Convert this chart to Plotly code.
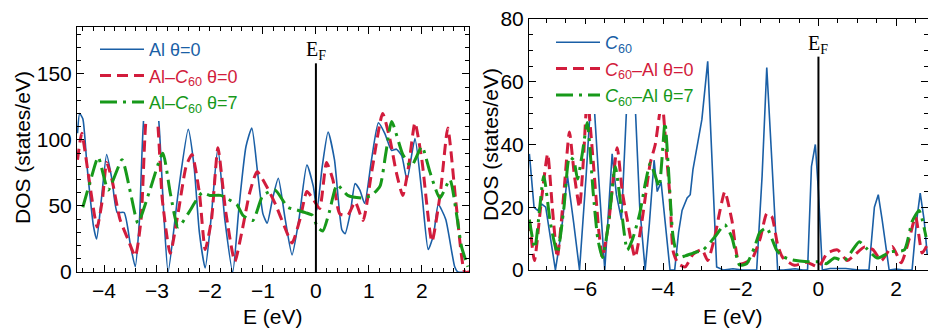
import plotly.graph_objects as go

# ---------------- data: left panel (Al) ----------------
al_E = [-4.50, -4.46, -4.40, -4.32, -4.2, -4.14, -4.05, -3.95, -3.85, -3.75, -3.62, -3.5, -3.41,
        -3.33, -3.23, -3.1, -2.98, -2.88, -2.79, -2.6, -2.41, -2.3, -2.2, -2.09, -1.98, -1.85,
        -1.72, -1.57, -1.45, -1.32, -1.21, -1.1, -1.0, -0.92, -0.82, -0.71, -0.58, -0.45, -0.32,
        -0.17, -0.05, 0.02, 0.12, 0.23, 0.35, 0.49, 0.55, 0.65, 0.74, 0.83, 0.92, 1.05, 1.18,
        1.3, 1.43, 1.52, 1.62, 1.72, 1.87, 2.0, 2.12, 2.22, 2.31, 2.45, 2.62, 2.68, 2.9]
al_V = [105, 120, 116, 80, 35, 25, 55, 89, 70, 45, 45, 20, 4,
        40, 125, 138, 120, 50, 0, 60, 108, 80, 30, 3, 40, 94,
        40, 0, 50, 95, 109, 75, 44, 37, 55, 71, 40, 13, 40,
        81, 65, 47, 80, 106, 85, 32, 29, 45, 67, 62, 52, 85, 113,
        105, 92, 93, 88, 70, 101, 60, 17, 28, 51, 40, 4, 0, 0]

alc_E = [-4.5, -4.42, -4.3, -4.13, -4.03, -3.95, -3.85, -3.7, -3.55, -3.41, -3.3, -3.2, -3.1, -3.0,
         -2.9, -2.75, -2.6, -2.45, -2.34, -2.2, -2.09, -1.97, -1.85, -1.7, -1.53, -1.4, -1.25,
         -1.11, -0.92, -0.75, -0.6, -0.45, -0.3, -0.17, -0.05, 0.07, 0.2, 0.32, 0.45, 0.6, 0.74,
         0.89, 1.05, 1.26, 1.4, 1.52, 1.64, 1.75, 1.87, 2.0, 2.19, 2.35, 2.49, 2.65, 2.81, 2.9]
alc_V = [85, 105, 75, 34, 55, 83, 70, 40, 25, 12, 40, 118, 132, 118,
         55, 14, 45, 80, 89, 60, 17, 40, 94, 45, 8, 30, 60,
         76, 64, 50, 35, 22, 40, 61, 55, 48, 83, 70, 44, 43, 53,
         39, 75, 120, 100, 75, 58, 80, 113, 85, 23, 60, 109, 50, 0, 0]

alc7_E = [-4.4, -4.25, -4.11, -3.92, -3.66, -3.5, -3.36, -3.15, -2.89, -2.75, -2.6, -2.4, -2.28,
          -2.15, -2.0, -1.8, -1.65, -1.49, -1.38, -1.19, -1.0, -0.77, -0.53, -0.36, -0.2, -0.07,
          0.03, 0.13, 0.25, 0.4, 0.6, 0.89, 1.05, 1.21, 1.32, 1.43, 1.64, 1.8, 2.0, 2.15, 2.34,
          2.53, 2.65, 2.75, 2.87]
alc7_V = [49, 70, 87, 62, 85, 60, 37, 60, 90, 60, 34, 45, 53,
          60, 58, 58, 55, 51, 43, 39, 58, 62, 49, 47, 45, 43,
          34, 31, 45, 66, 58, 56, 58, 65, 90, 114, 89, 80, 95, 76, 56,
          70, 45, 19, 4]

# ---------------- data: right panel (C60) ----------------
c_E = [-7.44, -7.32, -7.23, -7.12, -7.02, -6.9, -6.77, -6.62, -6.46, -6.3, -6.15, -5.98, -5.82,
       -5.66, -5.5, -5.31, -5.2, -5.07, -4.9, -4.75, -4.6, -4.46, -4.35, -4.23, -4.15, -4.05,
       -3.95, -3.82, -3.7, -3.6, -3.51, -3.38, -3.3, -3.23, -3.1, -3.0, -2.85, -2.74, -2.62,
       -2.45, -2.2, -1.95, -1.8, -1.59, -1.45, -1.33, -1.2, -1.05, -0.9, -0.6, -0.4, -0.28,
       -0.18, -0.08, 0.0, 0.1, 0.3, 0.7, 1.05, 1.2, 1.3, 1.44, 1.54, 1.64, 1.82, 2.0, 2.2,
       2.41, 2.52, 2.62, 2.72, 2.8]
c_V = [37, 20, 19, 21, 20, 10, 0, 12, 30, 15, 0, 30, 62,
       30, 0, 37, 24, 16, 62, 62, 20, 0, 15, 35, 25, 28,
       15, 0, 0, 12, 19, 23, 24, 32, 41, 48, 66.5, 35, 1,
       0, 0.4, 0, 0, 0, 30, 64.5, 35, 0, 0, 0.4, 0, 0,
       33, 40, 25, 0, 0.5, 0.5, 0, 0, 0, 20, 24, 16, 0, 0.3, 0,
       0, 15, 24.5, 16, 5]

ca_E = [-7.44, -7.31, -7.15, -6.97, -6.85, -6.72, -6.55, -6.41, -6.28, -6.15, -6.05, -5.95, -5.8,
        -5.65, -5.56, -5.4, -5.18, -5.05, -4.92, -4.72, -4.55, -4.33, -4.2, -4.03, -3.9, -3.82,
        -3.74, -3.61, -3.43, -3.23, -3.0, -2.85, -2.67, -2.55, -2.41, -2.23, -2.03, -1.72, -1.5,
        -1.33, -1.2, -1.05, -0.92, -0.62, -0.3, 0.0, 0.23, 0.49, 0.74, 0.95, 1.18, 1.4, 1.62,
        1.9, 2.13, 2.33, 2.5, 2.67, 2.8]
ca_V = [16, 3, 20, 37, 20, 4, 25, 44, 30, 20, 35, 55, 35,
        12, 4, 15, 39, 25, 16, 4, 15, 34, 40, 54, 35, 23,
        6, 2, 1, 5, 6.5, 3, 10.5, 18, 25, 16, 2, 3.4, 10,
        18, 17, 8, 4, 1.5, 2.5, 1, 5.4, 6.4, 3, 5, 7.3, 6.5, 3,
        7.5, 2.3, 9.6, 17, 5.4, 8]

ca7_E = [-7.44, -7.3, -7.07, -6.9, -6.72, -6.55, -6.41, -6.3, -6.2, -6.08, -5.95, -5.8, -5.68,
         -5.56, -5.4, -5.23, -5.08, -4.92, -4.78, -4.6, -4.45, -4.33, -4.2, -4.1, -3.95, -3.87,
         -3.74, -3.61, -3.43, -3.23, -2.97, -2.67, -2.41, -2.23, -2.03, -1.85, -1.64, -1.51,
         -1.33, -1.08, -0.92, -0.67, -0.28, 0.05, 0.2, 0.41, 0.67, 1.05, 1.23, 1.51, 1.87, 2.21,
         2.41, 2.59, 2.77]
ca7_V = [16, 7, 30, 15, 5.4, 20, 36, 35, 29, 37, 47, 25, 10,
         4, 15, 33, 20, 6.4, 10, 18, 28, 34, 30, 26.5, 47, 34,
         10.5, 4, 4.5, 5.4, 6.4, 10.5, 14.4, 10.5, 1.6, 2, 7.4, 12,
         13.4, 6.4, 4.3, 3.2, 2.6, 2.6, 2, 3.8, 3, 9, 7, 3.8, 5.8, 6.4,
         15.4, 19, 10.5]

EF_TOP_LEFT = 158
EF_TOP_RIGHT = 68

BLUE = "#1a5fa6"
RED = "#d21c3c"
GREEN = "#17991a"

SANS = "Liberation Sans Narrow, Arial Narrow, Liberation Sans, Arial, sans-serif"
SERIF = "Liberation Serif, Times New Roman, serif"

def nm(txt, col):
    return f"<span style='color:{col}'>{txt}</span>"

C60 = "<i>C</i><sub>60</sub>"
SM = 0.55

fig = go.Figure()

fig.add_trace(go.Scatter(x=al_E, y=al_V, mode="lines", name=nm("Al θ=0", BLUE),
                         line=dict(color=BLUE, width=1.6, shape="spline", smoothing=SM),
                         xaxis="x", yaxis="y", legend="legend"))
fig.add_trace(go.Scatter(x=alc_E, y=alc_V, mode="lines", name=nm("Al–" + C60 + " θ=0", RED),
                         line=dict(color=RED, width=3, dash="11px,6px", shape="spline", smoothing=SM),
                         xaxis="x", yaxis="y", legend="legend"))
fig.add_trace(go.Scatter(x=alc7_E, y=alc7_V, mode="lines", name=nm("Al–" + C60 + " θ=7", GREEN),
                         line=dict(color=GREEN, width=3, dash="17px,6px,3px,6px", shape="spline", smoothing=SM),
                         xaxis="x", yaxis="y", legend="legend"))

fig.add_trace(go.Scatter(x=c_E, y=c_V, mode="lines", name=nm(C60, BLUE),
                         line=dict(color=BLUE, width=1.6),
                         xaxis="x2", yaxis="y2", legend="legend2"))
fig.add_trace(go.Scatter(x=ca_E, y=ca_V, mode="lines", name=nm(C60 + "–Al θ=0", RED),
                         line=dict(color=RED, width=3, dash="11px,6px", shape="spline", smoothing=SM),
                         xaxis="x2", yaxis="y2", legend="legend2"))
fig.add_trace(go.Scatter(x=ca7_E, y=ca7_V, mode="lines", name=nm(C60 + "–Al θ=7", GREEN),
                         line=dict(color=GREEN, width=3, dash="17px,6px,3px,6px", shape="spline", smoothing=SM),
                         xaxis="x2", yaxis="y2", legend="legend2"))

W, H = 928, 328
tickfont = dict(family=SANS, size=21, color="black")

def ax(domain, rng, dtick, mdtick, anchor):
    return dict(domain=domain, range=rng, anchor=anchor, dtick=dtick, tick0=0,
                showline=True, linecolor="black", linewidth=1, mirror="ticks",
                ticks="inside", ticklen=7, tickwidth=1, tickcolor="black",
                minor=dict(ticks="inside", ticklen=4, dtick=mdtick, tick0=0, tickcolor="black"),
                showgrid=False, zeroline=False, tickfont=tickfont, automargin=False)

lab = dict(family=SANS, size=21, color="black")

fig.update_layout(
    width=W, height=H, margin=dict(l=0, r=0, t=0, b=0),
    paper_bgcolor="white", plot_bgcolor="white", showlegend=True,
    xaxis=ax([77 / W, 469 / W], [-4.51, 2.89], 1, 0.2, "y"),
    yaxis=ax([(H - 272) / H, (H - 27) / H], [0, 185.5], 50, 10, "x"),
    xaxis2=ax([529 / W, 1.0], [-7.45, 2.82], 2, 0.5, "y2"),
    yaxis2=ax([(H - 270) / H, (H - 19) / H], [0, 80], 20, 5, "x2"),
    legend=dict(x=95 / W, y=1 - 31 / H, xanchor="left", yanchor="top",
                bgcolor="white", borderwidth=0, itemwidth=44,
                font=dict(family=SANS, size=18, color="black")),
    legend2=dict(x=551 / W, y=1 - 24 / H, xanchor="left", yanchor="top",
                 bgcolor="white", borderwidth=0, itemwidth=44,
                 font=dict(family=SANS, size=18, color="black")),
    shapes=[
        dict(type="line", xref="x", yref="y", x0=0, x1=0, y0=0, y1=EF_TOP_LEFT,
             line=dict(color="black", width=2)),
        dict(type="line", xref="x2", yref="y2", x0=0, x1=0, y0=0, y1=EF_TOP_RIGHT,
             line=dict(color="black", width=2)),
    ],
    annotations=[
        dict(text="E<sub>F</sub>", xref="x", yref="y", x=0, y=EF_TOP_LEFT, yanchor="bottom",
             xanchor="center", showarrow=False, font=dict(family=SERIF, size=20, color="black"), yshift=-2),
        dict(text="E<sub>F</sub>", xref="x2", yref="y2", x=0, y=EF_TOP_RIGHT, yanchor="bottom",
             xanchor="center", showarrow=False, font=dict(family=SERIF, size=20, color="black"), yshift=-2),
        dict(text="DOS (states/eV)", xref="paper", yref="paper", x=22 / W, y=1 - 148 / H,
             xanchor="center", yanchor="middle", textangle=-90, showarrow=False, font=lab),
        dict(text="DOS (states/eV)", xref="paper", yref="paper", x=490 / W, y=1 - 145 / H,
             xanchor="center", yanchor="middle", textangle=-90, showarrow=False, font=lab),
        dict(text="E (eV)", xref="paper", yref="paper", x=273 / W, y=1 - 316 / H,
             xanchor="center", yanchor="middle", showarrow=False, font=lab),
        dict(text="E (eV)", xref="paper", yref="paper", x=733 / W, y=1 - 316 / H,
             xanchor="center", yanchor="middle", showarrow=False, font=lab),
    ],
)

fig.write_html("out.html")
